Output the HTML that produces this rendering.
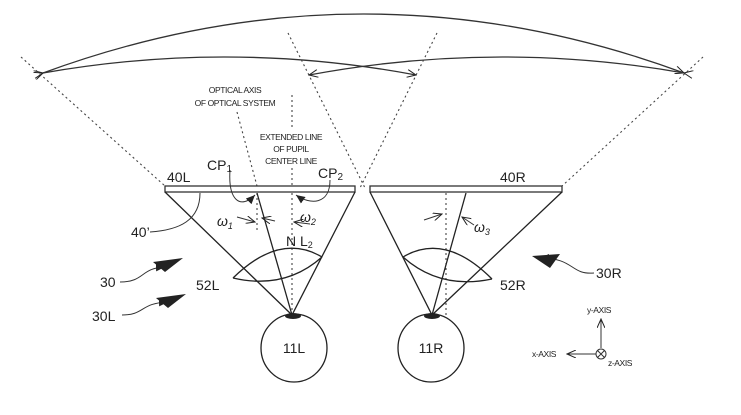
<!DOCTYPE html>
<html><head><meta charset="utf-8"><style>
html,body{margin:0;padding:0;background:#fff;}
svg{display:block}
text{font-family:"Liberation Sans",sans-serif;fill:#222}
.s{font-size:8.5px;letter-spacing:-0.4px}
.m{font-size:14px}
</style></head><body>
<svg width="741" height="415" viewBox="0 0 741 415" xmlns="http://www.w3.org/2000/svg">
<defs>
<marker id="a" markerWidth="10" markerHeight="8" refX="9" refY="4" orient="auto" markerUnits="userSpaceOnUse"><path d="M0,0 L9,4 L0,8" fill="none" stroke="#222" stroke-width="1"/></marker>
<marker id="f" markerWidth="10" markerHeight="8" refX="9" refY="4" orient="auto" markerUnits="userSpaceOnUse"><path d="M0,0 L9,4 L0,8z" fill="#222"/></marker>
</defs>
<g fill="none" stroke="#333" stroke-width="1.3">
<path d="M43,73 Q364,-45 684,73" marker-start="url(#a)" marker-end="url(#a)"/>
<path d="M43,73 Q230,40 416,75" marker-start="url(#a)" marker-end="url(#a)"/>
<path d="M684,73 Q497,40 309,75" marker-start="url(#a)" marker-end="url(#a)"/>
</g>
<g fill="none" stroke="#444" stroke-width="1.1" stroke-dasharray="2,3">
<line x1="21" y1="57" x2="165" y2="186"/>
<line x1="703" y1="57" x2="562" y2="186"/>
<line x1="288" y1="33" x2="365" y2="188"/>
<line x1="437" y1="33" x2="360" y2="188"/>
<line x1="237" y1="112" x2="257" y2="186"/>
<line x1="292" y1="95" x2="292" y2="128"/>
<line x1="292" y1="168" x2="292" y2="186"/>
<line x1="292" y1="193" x2="292" y2="315"/>
<line x1="257" y1="193" x2="257" y2="232"/>
<line x1="446" y1="193" x2="446" y2="315"/>
</g>
<g fill="#fff" stroke="#333" stroke-width="1.3">
<rect x="165" y="186" width="190" height="6"/>
<rect x="370" y="186" width="192" height="6"/>
</g>
<g fill="none" stroke="#222" stroke-width="1.3">
<path d="M165,192 L292,315 L355,192"/>
<path d="M370,192 L432,315 L562,192"/>
<line x1="257" y1="193" x2="292" y2="315"/>
<line x1="466" y1="193" x2="432" y2="315"/>
<path d="M233,278 Q280,232 322,257"/>
<path d="M233,278 Q285,290 322,257"/>
<path d="M403,257 Q445,232 492,279"/>
<path d="M403,257 Q440,290 492,279"/>
<ellipse cx="294" cy="348" rx="33" ry="34"/>
<ellipse cx="431" cy="348" rx="33" ry="34"/>
</g>
<ellipse cx="293" cy="316" rx="8" ry="3" fill="#222"/>
<ellipse cx="432" cy="316" rx="8" ry="3" fill="#222"/>
<g fill="none" stroke="#333" stroke-width="1">
<path d="M230,170 C228,200 240,210 255,195" marker-end="url(#f)"/>
<path d="M330,180 C330,205 310,205 296,195" marker-end="url(#f)"/>
<path d="M200,193 C200,220 180,230 150,232"/>
<path d="M237,217 L255,222" marker-end="url(#a)"/>
<path d="M275,221 L262,218" marker-end="url(#a)"/>
<path d="M310,224 L294,222" marker-end="url(#a)"/>
<path d="M424,220 L442,214" marker-end="url(#a)"/>
<path d="M474,225 L462,217" marker-end="url(#a)"/>
<path d="M120,282 C145,282 140,268 165,267" marker-end="url(#f)"/>
<path d="M122,315 C145,315 140,303 168,302" marker-end="url(#f)"/>
<path d="M594,273 C570,275 575,258 540,258" marker-end="url(#f)"/>
<line x1="601" y1="348" x2="601" y2="319" marker-end="url(#a)"/>
<line x1="596" y1="354" x2="567" y2="354" marker-end="url(#a)"/>
<circle cx="601" cy="354" r="5"/>
<path d="M597.5,350.5 L604.5,357.5 M604.5,350.5 L597.5,357.5"/>
</g>
<path d="M153,262 L183,258 L165,272z" fill="#222"/>
<path d="M156,298 L186,294 L168,308z" fill="#222"/>
<path d="M532,256 L560,254 L550,268z" fill="#222"/>
<text class="s" x="235" y="93" text-anchor="middle">OPTICAL AXIS</text>
<text class="s" x="235" y="106" text-anchor="middle">OF OPTICAL SYSTEM</text>
<text class="s" x="291" y="140" text-anchor="middle">EXTENDED LINE</text>
<text class="s" x="291" y="152" text-anchor="middle">OF PUPIL</text>
<text class="s" x="291" y="164" text-anchor="middle">CENTER LINE</text>
<text class="m" x="167" y="182">40L</text>
<text class="m" x="207" y="170">CP<tspan font-size="10" dy="2">1</tspan></text>
<text class="m" x="318" y="178">CP<tspan font-size="10" dy="2">2</tspan></text>
<text class="m" x="500" y="182">40R</text>
<text class="m" x="131" y="237">40’</text>
<text class="m" x="217" y="226" font-style="italic">ω<tspan font-size="9" dy="3">1</tspan></text>
<text class="m" x="300" y="222" font-style="italic">ω<tspan font-size="9" dy="3">2</tspan></text>
<text class="m" x="286" y="246">N L<tspan font-size="9" dy="2">2</tspan></text>
<text class="m" x="474" y="232" font-style="italic">ω<tspan font-size="9" dy="3">3</tspan></text>
<text class="m" x="100" y="287">30</text>
<text class="m" x="92" y="321">30L</text>
<text class="m" x="196" y="290">52L</text>
<text class="m" x="500" y="290">52R</text>
<text class="m" x="596" y="278">30R</text>
<text class="m" x="294" y="353" text-anchor="middle">11L</text>
<text class="m" x="431" y="353" text-anchor="middle">11R</text>
<text class="s" x="587" y="313">y-AXIS</text>
<text class="s" x="532" y="357">x-AXIS</text>
<text class="s" x="608" y="366">z-AXIS</text>
</svg>
</body></html>
